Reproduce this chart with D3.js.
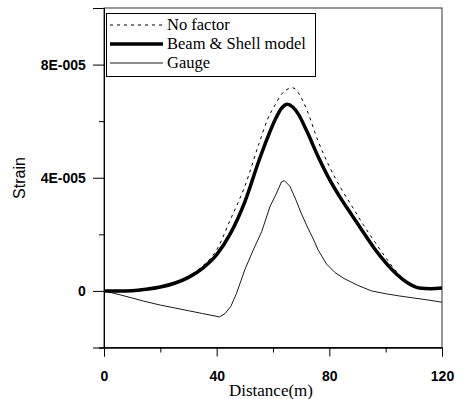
<!DOCTYPE html>
<html>
<head>
<meta charset="utf-8">
<script src="https://cdn.jsdelivr.net/npm/d3@7"></script>
<style>
  body { margin: 0; background: #fff; }
  svg { display: block; }
</style>
</head>
<body>
<div id="graphic"></div>
<script>
// values in units of 1e-5
var modelDist = [0, 5, 10, 15, 20, 25, 30, 35, 40, 45, 50, 55, 58, 61, 63, 65, 67, 69, 72, 76, 80, 84, 88, 92, 96, 100, 104, 108, 112, 116, 120];
var beamShell = [0, 0, 0.01, 0.06, 0.14, 0.27, 0.48, 0.8, 1.28, 2.05, 3.15, 4.6, 5.4, 6.1, 6.45, 6.6, 6.5, 6.25, 5.65, 4.75, 3.95, 3.28, 2.68, 2.08, 1.5, 1.0, 0.58, 0.27, 0.1, 0.08, 0.1];
var noFactor = [0, 0, 0.01, 0.06, 0.15, 0.29, 0.52, 0.88, 1.45, 2.55, 3.7, 5.2, 6.05, 6.62, 6.95, 7.12, 7.18, 7.0, 6.4, 5.3, 4.4, 3.65, 3.0, 2.35, 1.75, 1.18, 0.66, 0.3, 0.12, 0.08, 0.1];
var gaugeDist = [0, 5, 10, 14, 20, 25, 30, 35, 41, 43, 45, 47, 50, 53, 56, 59, 61, 63, 64, 66, 68, 70, 72, 74, 76, 79, 82, 85, 90, 95, 100, 105, 110, 115, 120];
var gauge = [0, -0.12, -0.25, -0.36, -0.5, -0.6, -0.7, -0.8, -0.92, -0.8, -0.55, -0.1, 0.75, 1.45, 2.1, 3.0, 3.4, 3.85, 3.9, 3.7, 3.25, 2.75, 2.3, 1.9, 1.45, 0.95, 0.65, 0.45, 0.2, 0.0, -0.1, -0.18, -0.25, -0.32, -0.4];
var xTicks = [0, 40, 80, 120];
var xMinor = [20, 60, 100];
var yTicks = [0, 4e-5, 8e-5];
var yTickLabels = ["0", "4E-005", "8E-005"];
var yMinor = [-2e-5, 2e-5, 6e-5];
var legendNames = ["No factor", "Beam & Shell model", "Gauge"];

var W = 457, H = 399;
var margin = {left: 104, top: 8, right: 15, bottom: 52};

var svg = d3.select("#graphic").append("svg").attr("width", W).attr("height", H);

var x = d3.scaleLinear().domain([0, 120]).range([margin.left, W - margin.right]);
var y = d3.scaleLinear().domain([-2e-5, 1e-4]).range([H - margin.bottom + 0.5, margin.top]);

// frame
svg.append("rect")
  .attr("x", x(0)).attr("y", y(1e-4))
  .attr("width", x(120) - x(0)).attr("height", y(-2e-5) - y(1e-4))
  .attr("fill", "none").attr("stroke", "#333").attr("stroke-width", 1);

// axes
var xAxis = svg.append("g").attr("transform", "translate(0," + y(-2e-5) + ")")
  .call(d3.axisBottom(x).tickValues(xTicks).tickSize(9).tickFormat(d3.format("d")));
svg.append("g").attr("transform", "translate(0," + y(-2e-5) + ")")
  .call(d3.axisBottom(x).tickValues(xMinor).tickSize(5).tickFormat(""));
var yAxis = svg.append("g").attr("transform", "translate(" + x(0) + ",0)")
  .call(d3.axisLeft(y).tickValues(yTicks).tickSize(11).tickFormat(function(d, i) { return yTickLabels[i]; }));
svg.append("g").attr("transform", "translate(" + x(0) + ",0)")
  .call(d3.axisLeft(y).tickValues(yMinor).tickSize(5).tickFormat(""));

svg.selectAll(".domain").attr("stroke", "#000");
svg.selectAll(".tick line").attr("stroke", "#000");
svg.selectAll(".tick text")
  .attr("font-family", "'Liberation Sans', Arial, sans-serif")
  .attr("font-weight", "bold").attr("font-size", 14).attr("fill", "#000");
xAxis.selectAll(".tick text").attr("dy", "1.55em");
yAxis.selectAll(".tick text").attr("dx", "-0.3em");

// axis titles
svg.append("text")
  .attr("x", 271).attr("y", 396)
  .attr("text-anchor", "middle")
  .attr("font-family", "'Liberation Serif', 'Times New Roman', serif")
  .attr("font-size", 17).text("Distance(m)");
svg.append("text")
  .attr("transform", "translate(25,178) rotate(-90)")
  .attr("text-anchor", "middle")
  .attr("font-family", "'Liberation Sans', Arial, sans-serif")
  .attr("font-size", 16).text("Strain");

// lines
var line = d3.line()
  .x(function(d) { return x(d[0]); })
  .y(function(d) { return y(d[1] * 1e-5); })
  .curve(d3.curveMonotoneX);
var gaugeLine = d3.line()
  .x(function(d) { return x(d[0]); })
  .y(function(d) { return y(d[1] * 1e-5); });

svg.append("path")
  .datum(d3.zip(modelDist, noFactor))
  .attr("d", line).attr("fill", "none")
  .attr("stroke", "#000").attr("stroke-width", 1).attr("stroke-dasharray", "3,4");
svg.append("path")
  .datum(d3.zip(modelDist, beamShell))
  .attr("d", line).attr("fill", "none")
  .attr("stroke", "#000").attr("stroke-width", 3.5);
svg.append("path")
  .datum(d3.zip(gaugeDist, gauge))
  .attr("d", gaugeLine).attr("fill", "none")
  .attr("stroke", "#000").attr("stroke-width", 0.9);

// legend
var legend = svg.append("g");
legend.append("rect")
  .attr("x", 106.5).attr("y", 13.5).attr("width", 209).attr("height", 63)
  .attr("fill", "#fff").attr("stroke", "#000").attr("stroke-width", 1);
var styles = [
  {w: 1, dash: "3,4"},
  {w: 3.5, dash: null},
  {w: 0.9, dash: null}
];
legendNames.forEach(function(name, i) {
  var yy = 25 + i * 19;
  legend.append("line")
    .attr("x1", 110).attr("x2", 163).attr("y1", yy).attr("y2", yy)
    .attr("stroke", "#000").attr("stroke-width", styles[i].w)
    .attr("stroke-dasharray", styles[i].dash);
  legend.append("text")
    .attr("x", 167).attr("y", yy + 5)
    .attr("font-family", "'Liberation Serif', 'Times New Roman', serif")
    .attr("font-size", 16.5).text(name);
});
</script>
</body>
</html>
